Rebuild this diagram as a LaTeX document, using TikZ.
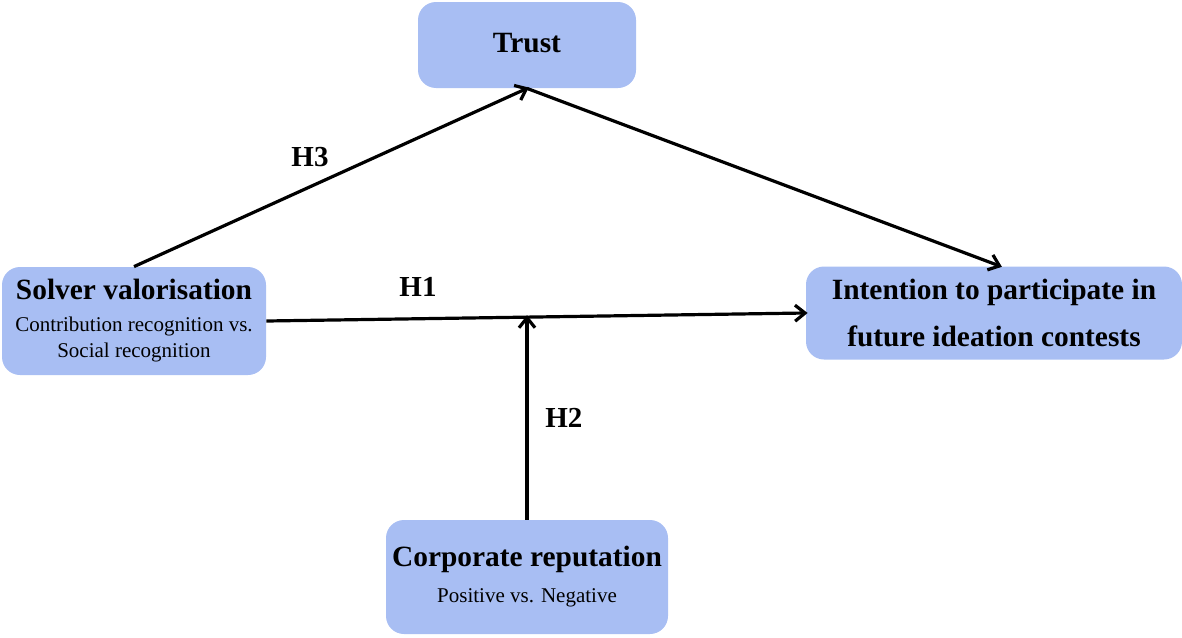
\documentclass[tikz,border=0pt]{standalone}
\usepackage{fontspec}
\setmainfont{Liberation Serif}
\usetikzlibrary{arrows.meta,positioning}
\definecolor{boxblue}{RGB}{168,190,243}

\begin{document}
\begin{tikzpicture}[x=0.5pt,y=-0.5pt,>={Straight Barb[length=5pt,width=8pt]},
		box/.style={rectangle,rounded corners=9pt,fill=boxblue,align=center,inner sep=2pt},
		hyp/.style={font=\bfseries\fontsize{14.5}{17}\selectfont},
		link/.style={->,line width=1.6pt,shorten >=-1pt}]
			\useasboundingbox (0,0) rectangle (1182,637);
			\node[box,minimum width=109pt,minimum height=43pt,font=\bfseries\fontsize{14.7}{17}\selectfont] (tr) at (527,45)
			{\raisebox{2pt}{Trust}};
			\node[box,minimum width=132pt,minimum height=54pt,font=\fontsize{10.5}{13}\selectfont] (sv) at (134,321)
			{{\bfseries\fontsize{14.7}{17}\selectfont Solver valorisation}\\[3pt]
			Contribution recognition vs.\\
			Social recognition};
			\node[box,minimum width=188pt,minimum height=46.5pt,font=\bfseries\fontsize{14.7}{21.5}\selectfont] (int) at (994,313)
			{\raisebox{2pt}{Intention to participate in}\\
			future ideation contests};
			\node[box,minimum width=141pt,minimum height=57pt,font=\fontsize{10.5}{13}\selectfont] (cr) at (527,577)
			{{\bfseries\fontsize{14.7}{17}\selectfont Corporate reputation}\\[5pt]
			Positive vs. Negative};
			\path[link]
				(sv.north) edge (tr.south)
				(tr.south) edge ([xshift=3pt]int.north);
			\draw[link] (sv.east) -- coordinate[pos=0.478] (hmid) (int.west);
			\node[hyp] (h3) at (310,157) {H3};
			\node[hyp] (h1) at (418,287) {H1};
			\draw[link] (cr.north) -- node[hyp,right=5pt,pos=0.5] {H2} (cr.north |- hmid);
		\end{tikzpicture}
\end{document}
